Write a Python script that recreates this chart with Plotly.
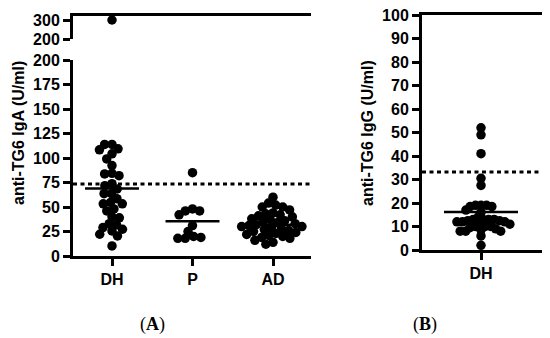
import numpy as np
import plotly.graph_objects as go

W, H = 550, 338

# ---------------- data ----------------
groups_a = ["DH", "P", "AD"]
iga_dh = [300, 113.8, 113.8, 109.4, 108.4, 104.3, 99, 92.3, 84.4, 82, 83.8, 73.8,
          68.4, 71.8, 63.6, 63.6, 58.5, 53.3, 54.7, 53.3, 46, 48, 39, 40, 31.8,
          33, 25.6, 27.3, 29, 22.2, 20.5, 10.3]
iga_p = [85, 48, 46, 46, 42, 31, 25, 20, 19, 18, 18]
iga_ad = [60, 54, 52, 50, 50, 47, 44, 43, 42, 41, 40, 38, 37, 36, 35, 34, 33, 32,
          31, 30, 30, 29, 28, 27, 26, 25, 24, 23, 22, 21, 20, 19, 18, 16, 14, 12]
iga_means = [69, 35.5, 32]
iga_cutoff = 73.5

groups_b = ["DH"]
igg_dh = [52, 49, 41, 30.5, 27.5, 19, 19, 18.5, 18.5, 19, 17, 16, 14, 13, 13, 13,
          12.5, 12.5, 12, 12, 12, 13, 11, 11, 10, 10, 10, 9.5, 9, 8, 8, 8, 8.5, 6, 2]
igg_mean = 16.2
igg_cutoff = 33.2

iga_ticks_low = [0, 25, 50, 75, 100, 125, 150, 175, 200]
iga_ticks_high = [200, 300]
igg_ticks = list(range(0, 101, 10))
BREAK = 200

# ---------------- geometry (pixels of the final page) ----------------
OFF = 8  # default page body margin that shifts the figure


def fx(px):
    return (px - OFF) / W


def fy(py):
    return 1 - (py - OFF) / H


A_LEFT, A_RIGHT = 73, 311
A_TOP, A_HI_BOT, A_LO_TOP, A_BOT = 16, 39, 60, 256
A_CAT0, A_CATW = 112, 80.5
B_LEFT, B_RIGHT, B_TOP, B_BOT = 422, 543, 15, 250
B_CAT0, B_CATW = 481, 100.0

A_PPU = (A_BOT - A_LO_TOP) / BREAK
B_PPU = (B_BOT - B_TOP) / 100.0
HI_TOP_VAL = BREAK + (A_HI_BOT - A_TOP) * (100.0 / 19.0)

MSIZE = 9.5


def swarm(values, ppu, diam):
    values = np.asarray(values, float)
    order = np.argsort(-values)
    placed = []
    xs = np.zeros(len(values))
    for i in order:
        y = values[i] * ppu
        cands = [0.0]
        intervals = []
        for xj, yj in placed:
            dy = abs(y - yj)
            if dy < diam:
                dx = np.sqrt(diam ** 2 - dy ** 2)
                intervals.append((xj - dx, xj + dx))
                cands += [xj - dx, xj + dx]
        cands.sort(key=abs)
        for c in cands:
            if all(not (a + 1e-6 < c < b - 1e-6) for a, b in intervals):
                xs[i] = c
                break
        placed.append((xs[i], y))
    return xs


def bold(labels):
    return ["<b>%s</b>" % l for l in labels]


fig = go.Figure()
marker = dict(color="black", size=MSIZE, line=dict(width=0))

for gi, vals in enumerate([iga_dh, iga_p, iga_ad]):
    vals = np.asarray(vals, float)
    low = vals[vals <= BREAK]
    high = vals[vals > BREAK]
    offs = swarm(low, A_PPU, 7.4) / A_CATW
    fig.add_trace(go.Scatter(x=gi + offs, y=low, mode="markers", marker=marker,
                             xaxis="x", yaxis="y", showlegend=False, cliponaxis=False))
    if len(high):
        offs_h = swarm(high, 19.0 / 100.0, 7.4) / A_CATW
        fig.add_trace(go.Scatter(x=gi + offs_h, y=high, mode="markers", marker=marker,
                                 xaxis="x2", yaxis="y2", showlegend=False, cliponaxis=False))
    hw = 0.335
    fig.add_trace(go.Scatter(x=[gi - hw, gi + hw], y=[iga_means[gi]] * 2, mode="lines",
                             line=dict(color="black", width=2.5),
                             xaxis="x", yaxis="y", showlegend=False))

offs_b = swarm(igg_dh, B_PPU, 5.5) / B_CATW
fig.add_trace(go.Scatter(x=0 + offs_b, y=igg_dh, mode="markers", marker=marker,
                         xaxis="x3", yaxis="y4", showlegend=False, cliponaxis=False))
fig.add_trace(go.Scatter(x=[-0.37, 0.37], y=[igg_mean] * 2, mode="lines",
                         line=dict(color="black", width=2.5),
                         xaxis="x3", yaxis="y4", showlegend=False))

dash = "4px,3.5px"
fig.add_shape(type="line", xref="x domain", yref="y", x0=0, x1=1, y0=iga_cutoff, y1=iga_cutoff,
              line=dict(color="black", width=3, dash=dash))
fig.add_shape(type="line", xref="x3 domain", yref="y4", x0=0, x1=1, y0=igg_cutoff, y1=igg_cutoff,
              line=dict(color="black", width=3, dash=dash))

tickfont = dict(family="Liberation Sans", size=16, color="black")
ax_common = dict(showline=True, linecolor="black", linewidth=3, ticks="outside",
                 ticklen=7, tickwidth=3, tickcolor="black", showgrid=False,
                 zeroline=False, tickfont=tickfont, fixedrange=True, automargin=False,
                 ticklabeloverflow="allow")

a_xrange = [(A_LEFT - A_CAT0) / A_CATW, (A_RIGHT - A_CAT0) / A_CATW]
b_xrange = [(B_LEFT - B_CAT0) / B_CATW, (B_RIGHT - B_CAT0) / B_CATW]

fig.update_layout(
    template="none",
    width=W, height=H, margin=dict(l=0, r=0, t=0, b=0, pad=0, autoexpand=False),
    paper_bgcolor="white", plot_bgcolor="white",
    xaxis=dict(ax_common, domain=[fx(A_LEFT), fx(A_RIGHT)], anchor="y", range=a_xrange,
               tickvals=[0, 1, 2], ticktext=bold(groups_a)),
    yaxis=dict(ax_common, domain=[fy(A_BOT), fy(A_LO_TOP)], anchor="x", range=[0, BREAK],
               tickvals=iga_ticks_low, ticktext=bold(iga_ticks_low), ticklabelstandoff=0),
    xaxis2=dict(domain=[fx(A_LEFT), fx(A_RIGHT)], anchor="y2", range=a_xrange, side="top",
                showline=True, linecolor="black", linewidth=3, ticks="", automargin=False,
                showticklabels=False, showgrid=False, zeroline=False),
    yaxis2=dict(ax_common, domain=[fy(A_HI_BOT), fy(A_TOP)], anchor="x2",
                range=[BREAK, HI_TOP_VAL], tickvals=iga_ticks_high,
                ticktext=bold(iga_ticks_high), ticklabelstandoff=0),
    yaxis3=dict(domain=[fy(A_BOT), fy(A_TOP)], anchor="x", side="right", range=[0, 1],
                showline=True, linecolor="black", linewidth=3, ticks="", automargin=False,
                showticklabels=False, showgrid=False, zeroline=False),
    xaxis3=dict(ax_common, domain=[fx(B_LEFT), fx(B_RIGHT)], anchor="y4", range=b_xrange,
                tickvals=[0], ticktext=bold(groups_b), mirror=True),
    yaxis4=dict(ax_common, domain=[fy(B_BOT), fy(B_TOP)], anchor="x3", range=[0, 100],
                tickvals=igg_ticks, ticktext=bold(igg_ticks), mirror=True,
                ticklabelstandoff=0),
)

title_font = dict(family="Liberation Sans", size=16, color="black")
fig.add_annotation(text="<b>anti-TG6 IgA (U/ml)</b>", xref="paper", yref="paper",
                   x=fx(18), y=fy(133), xanchor="center", yanchor="middle",
                   textangle=-90, showarrow=False, font=title_font)
fig.add_annotation(text="<b>anti-TG6 IgG (U/ml)</b>", xref="paper", yref="paper",
                   x=fx(367), y=fy(133), xanchor="center", yanchor="middle",
                   textangle=-90, showarrow=False, font=title_font)

lab_font = dict(family="Liberation Serif", size=18, color="black")
fig.add_annotation(text="(<b>A</b>)", xref="paper", yref="paper", x=fx(152), y=fy(324),
                   xanchor="center", yanchor="middle", showarrow=False, font=lab_font)
fig.add_annotation(text="(<b>B</b>)", xref="paper", yref="paper", x=fx(425), y=fy(324),
                   xanchor="center", yanchor="middle", showarrow=False, font=lab_font)

fig.write_html("out.html")
